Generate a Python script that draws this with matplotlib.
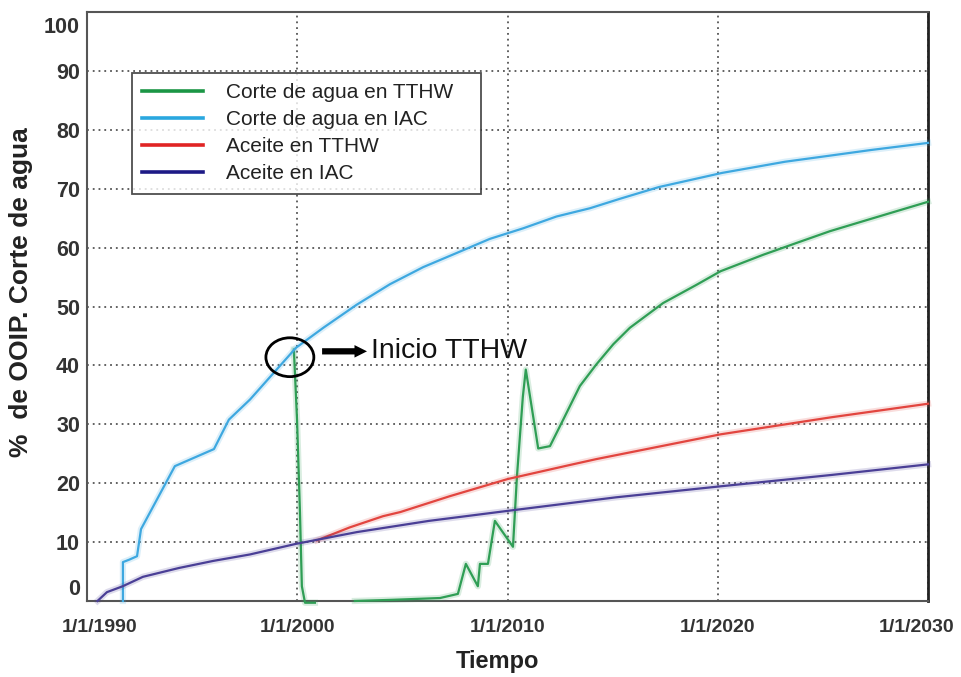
import numpy as np
import matplotlib.pyplot as plt
import matplotlib.patheffects as pe
from matplotlib.patches import Ellipse
from matplotlib.transforms import ScaledTranslation

plt.rcParams['font.family'] = ['Liberation Sans', 'DejaVu Sans']

# Corte de agua en IAC (blue)
blue_t = [1991.71, 1991.71, 1992.0, 1992.38, 1992.57, 1994.18, 1996.04, 1996.75,
          1997.75, 1999.94, 2001.24, 2002.82, 2004.41, 2005.99, 2007.58, 2009.16,
          2010.75, 2012.33, 2013.92, 2015.34, 2017.2, 2020.2, 2023.2, 2025.26,
          2027.3, 2030.0]
blue_v = [0, 6.6, 7.0, 7.6, 12.2, 22.9, 25.8, 30.8,
          34.2, 43.0, 46.4, 50.3, 53.8, 56.7, 59.1, 61.5,
          63.3, 65.3, 66.7, 68.3, 70.3, 72.7, 74.6, 75.6,
          76.6, 77.8]

# Corte de agua en TTHW (green)
green_t = [1999.84, 1999.99, 2000.13, 2000.22, 2000.37, 2000.84, np.nan,
           2002.74, 2004.55, 2006.79, 2007.64, 2008.02, 2008.59, 2008.69, 2009.07,
           2009.40, 2010.26, 2010.45, 2010.73, 2010.87, 2011.46, 2012.02, 2012.65,
           2013.44, 2014.23, 2015.03, 2015.82, 2017.4, 2018.99, 2020.13, 2022.16,
           2023.74, 2025.33, 2026.91, 2028.5, 2030.0]
green_v = [42.7, 30.8, 15.0, 2.5, -0.3, -0.3, np.nan,
           0, 0.2, 0.5, 1.2, 6.3, 2.5, 6.3, 6.3,
           13.6, 9.2, 21.2, 34.7, 39.3, 25.9, 26.3, 30.8,
           36.5, 40.2, 43.6, 46.4, 50.6, 53.7, 56.0, 58.8,
           60.8, 62.8, 64.5, 66.2, 67.8]

# Aceite en TTHW (red)
red_t = [2000.94, 2002.5, 2004.08, 2004.9, 2007.26, 2010.0, 2012.97, 2014.23,
         2020.13, 2025.4, 2030.0]
red_v = [10.3, 12.5, 14.4, 15.1, 17.8, 20.7, 23.1, 24.1, 28.3, 31.2, 33.5]

# Aceite en IAC (purple)
purp_t = [1990.5, 1990.95, 1991.7, 1992.66, 1994.37, 1996.0, 1997.75, 1999.94,
          2002.84, 2006.26, 2010.0, 2015.15, 2020.2, 2025.4, 2030.0]
purp_v = [0, 1.5, 2.5, 4.1, 5.6, 6.8, 7.9, 9.7,
          11.7, 13.6, 15.3, 17.6, 19.5, 21.4, 23.2]

x_ticks = [1990, 2000, 2010, 2020, 2030]
x_ticklabels = ["1/1/1990", "1/1/2000", "1/1/2010", "1/1/2020", "1/1/2030"]
y_ticks = [0, 10, 20, 30, 40, 50, 60, 70, 80, 90, 100]

fig = plt.figure(figsize=(9.61, 6.77), dpi=100)
ax = fig.add_axes([0.0905, 0.1123, 0.8752, 0.8697])

def halo(c):
    return [pe.Stroke(linewidth=4.5, foreground=c, alpha=0.18), pe.Normal()]

series = [
    (green_t, green_v, '#2f9e55', "Corte de agua en TTHW", '#1b9645'),
    (blue_t, blue_v, '#3ea8e0', "Corte de agua en IAC", '#2aa7df'),
    (red_t, red_v, '#e2453f', "Aceite en TTHW", '#e02424'),
    (purp_t, purp_v, '#4a3f96', "Aceite en IAC", '#1d1a86'),
]
lines = []
for t, v, c, lab, lc in series:
    ax.plot(t, v, color=c, lw=1.6, path_effects=halo(c), zorder=3, clip_on=False)
    lines.append(plt.Line2D([], [], color=lc, lw=2.6, label=lab))

ax.set_xlim(1990, 2030)
ax.set_ylim(0, 100)
ax.set_xticks(x_ticks)
ax.set_xticklabels(x_ticklabels)
ax.set_yticks(y_ticks)
ax.tick_params(length=0, labelsize=14, labelcolor='#333333')
ax.tick_params(axis='x', pad=13)
ax.tick_params(axis='y', pad=5, labelsize=15.5)
for lbl in ax.get_xticklabels() + ax.get_yticklabels():
    lbl.set_fontweight('bold')

# end labels sit inside the frame
def shift(lbl, dx, dy):
    lbl.set_transform(lbl.get_transform() + ScaledTranslation(dx/72, dy/72, fig.dpi_scale_trans))

ylbls = ax.get_yticklabels()
shift(ylbls[0], 0, 10)
shift(ylbls[-1], 0, -9)
xlbls = ax.get_xticklabels()
shift(xlbls[0], 9, 0)
shift(xlbls[-1], -8, 0)

ax.grid(True, color='#555555', lw=1.3, linestyle=(0, (1, 2.2)))
ax.set_axisbelow(True)
for s in ax.spines.values():
    s.set_color('#555555')
    s.set_linewidth(1.5)
ax.spines['right'].set_color('#222222')
ax.spines['right'].set_linewidth(2)

ax.set_xlabel("Tiempo", fontsize=17, fontweight='bold', color='#222222')
ax.xaxis.set_label_coords(0.4875, -0.083)
ax.set_ylabel("%  de OOIP. Corte de agua", fontsize=19, fontweight='bold', color='#222222',
              va='center')
ax.yaxis.set_label_coords(-0.078, 0.524)

leg = ax.legend(handles=lines, loc='upper left',
                bbox_to_anchor=(0.0535, 0.8966 - 0.2034, 0.415, 0.2034),
                mode='expand', borderaxespad=0, fontsize=15, frameon=True, fancybox=False,
                handlelength=2.9, handletextpad=1.1, labelspacing=0.38,
                borderpad=0.5)
leg.get_frame().set_edgecolor('#222222')
leg.get_frame().set_linewidth(1.3)
for txt in leg.get_texts():
    txt.set_color('#222222')

# Inicio TTHW marker
ax.add_patch(Ellipse((1999.65, 41.4), 2.28, 6.6, fill=False, ec='black', lw=2, zorder=5))
ax.annotate("", xy=(2003.45, 42.4), xytext=(2001.05, 42.4),
            arrowprops=dict(arrowstyle='simple,head_length=0.9,head_width=0.9,tail_width=0.45',
                            color='black', lw=0), zorder=5)
ax.text(2003.5, 42.5, "Inicio TTHW", fontsize=20.5, va='center', ha='left', color='#111111', zorder=5)

fig.savefig('out.png', dpi=100)
